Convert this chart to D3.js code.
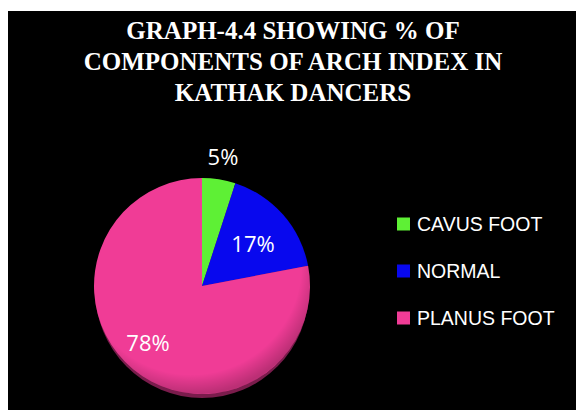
<!DOCTYPE html>
<html><head><meta charset="utf-8">
<script src="https://cdn.jsdelivr.net/npm/d3@7"></script>
<style>html,body{margin:0;padding:0;background:#fff;}svg{display:block;}</style>
</head><body>
<script>
const categories = ["CAVUS FOOT", "NORMAL", "PLANUS FOOT"];
const values = [5, 17, 78];
const labels = ["5%", "17%", "78%"];
const colors = ["#5ef035", "#0808ee", "#f03c96"];
const titleLines = ["GRAPH-4.4 SHOWING % OF", "COMPONENTS OF ARCH INDEX IN", "KATHAK DANCERS"];

const W = 576, H = 410;
const svg = d3.select("body").append("svg").attr("width", W).attr("height", H);
svg.append("rect").attr("x", 0).attr("y", 0).attr("width", W).attr("height", H).attr("fill", "#fff");
svg.append("rect").attr("x", 8).attr("y", 11).attr("width", W - 8).attr("height", H - 11).attr("fill", "#000");

// title
svg.append("g").selectAll("text").data(titleLines).join("text")
  .attr("x", 293).attr("y", (d, i) => 39 + i * 31)
  .attr("text-anchor", "middle")
  .attr("font-family", "'Liberation Serif','Times New Roman',serif")
  .attr("font-weight", "bold").attr("font-size", 25)
  .attr("fill", "#fff").text(d => d);

const cx = 202, cy = 286, r = 108;
const defs = svg.append("defs");
const rg = defs.append("radialGradient").attr("id", "shade").attr("cx", "45%").attr("cy", "40%").attr("r", "60%");
rg.append("stop").attr("offset", "0.85").attr("stop-color", "#000").attr("stop-opacity", 0);
rg.append("stop").attr("offset", "1").attr("stop-color", "#000").attr("stop-opacity", 0.22);

const pie = d3.pie().sort(null).value(d => d)(values);
const arc = d3.arc().innerRadius(0).outerRadius(r);
const g = svg.append("g").attr("transform", `translate(${cx},${cy})`);
// bottom bevel shadow
g.append("ellipse").attr("cx", 0).attr("cy", 4).attr("rx", r - 1).attr("ry", r).attr("fill", "#7a1c4c");
g.selectAll("path.slice").data(pie).join("path").attr("class", "slice")
  .attr("d", arc).attr("fill", (d, i) => colors[i]);
g.append("circle").attr("r", r).attr("fill", "url(#shade)");

const labelPos = [[223, 156], [253, 243], [148, 342]];
svg.append("g").selectAll("text").data(pie).join("text")
  .attr("x", (d, i) => labelPos[i][0]).attr("y", (d, i) => labelPos[i][1])
  .attr("text-anchor", "middle").attr("dominant-baseline", "central")
  .attr("font-family", "'Open Sans','Liberation Sans',sans-serif")
  .attr("font-size", 22).attr("fill", "#fff")
  .text((d, i) => labels[i]);

// legend
const y = d3.scalePoint().domain(categories).range([224, 318]);
const lg = svg.append("g").selectAll("g").data(categories).join("g")
  .attr("transform", d => `translate(397,${y(d)})`);
lg.append("rect").attr("x", 0).attr("y", -6.5).attr("width", 13).attr("height", 13)
  .attr("fill", (d, i) => colors[i]);
lg.append("text").attr("x", 20).attr("y", 0).attr("dominant-baseline", "central")
  .attr("font-family", "'Liberation Sans',Arial,sans-serif")
  .attr("font-size", 19.5).attr("fill", "#fff").text(d => d);
</script>
</body></html>
